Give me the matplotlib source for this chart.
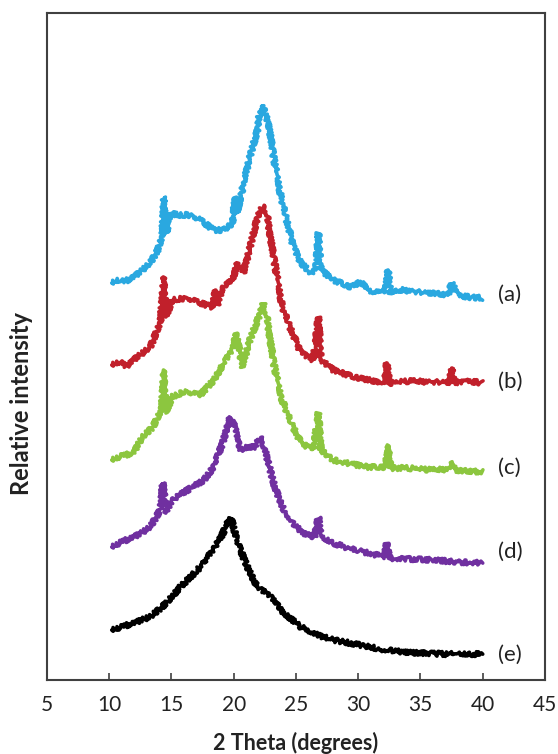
import matplotlib
matplotlib.use("Agg")
import matplotlib.pyplot as plt
import numpy as np

plt.rcParams['font.family'] = ['Lato', 'DejaVu Sans']

# values (arbitrary intensity units, already stacked)
x_a = [10.2, 10.7, 11.2, 11.9, 12.6, 13.3, 13.9, 14.25, 14.4, 14.6, 14.9, 15.5, 16.3, 17.3, 18.4, 19.2,
       19.9, 20.1, 20.3, 20.8, 21.3, 21.9, 22.1, 22.3, 22.5, 22.8, 23.2, 23.8, 24.3, 24.8, 25.4, 26.2,
       26.6, 26.8, 27.0, 28.0, 29.4, 30.2, 31.2, 32.2, 32.4, 32.6, 33.6, 34.8, 36.1, 37.2, 37.5, 38.0,
       38.8, 40.0]
y_a = [397, 400, 398, 403, 409, 417, 430, 443, 483, 447, 467, 465, 465, 460, 450, 450,
       457, 483, 467, 497, 523, 550, 570, 575, 567, 557, 523, 483, 457, 433, 417, 407,
       410, 447, 410, 400, 393, 398, 387, 390, 410, 387, 390, 388, 387, 385, 397, 385,
       383, 382]

x_b = [10.2, 10.8, 11.4, 11.9, 12.6, 13.3, 14.1, 14.4, 14.6, 15.0, 15.6, 16.3, 17.3, 18.3, 18.5, 18.7,
       19.2, 20.0, 20.3, 20.8, 21.2, 21.9, 22.4, 22.7, 23.2, 23.9, 24.6, 25.4, 26.4, 26.8, 27.0, 28.0,
       29.4, 30.8, 32.1, 32.3, 32.5, 34.0, 36.0, 37.3, 37.5, 37.7, 38.8, 40.0]
y_b = [315, 318, 314, 320, 326, 333, 357, 403, 363, 380, 381, 381, 377, 373, 390, 375,
       393, 403, 417, 407, 427, 463, 475, 463, 423, 373, 350, 327, 320, 363, 320, 310,
       304, 300, 297, 317, 297, 299, 298, 298, 312, 297, 299, 297]

x_c = [10.2, 11.0, 11.9, 12.7, 13.5, 14.2, 14.4, 14.6, 15.0, 16.0, 17.3, 18.4, 19.2, 19.9, 20.2, 20.7,
       21.3, 22.0, 22.4, 22.7, 23.2, 23.8, 24.6, 25.4, 26.4, 26.8, 27.0, 28.0, 29.4, 30.8, 32.2, 32.4,
       32.6, 34.0, 36.0, 37.4, 37.6, 37.8, 40.0]
y_c = [220, 224, 227, 243, 253, 270, 310, 267, 283, 288, 285, 300, 317, 330, 347, 313,
       340, 363, 377, 360, 317, 283, 257, 237, 230, 267, 230, 220, 216, 213, 213, 235,
       212, 212, 210, 211, 218, 210, 208]

x_d = [10.2, 11.0, 11.9, 12.6, 13.3, 14.1, 14.3, 14.6, 15.0, 16.3, 17.6, 18.4, 19.1, 19.7, 20.1, 20.5,
       21.1, 21.7, 22.1, 22.5, 23.2, 23.9, 24.7, 25.6, 26.5, 26.8, 27.0, 28.0, 29.4, 30.8, 32.1, 32.3,
       32.5, 34.0, 36.0, 38.0, 40.0]
y_d = [133, 138, 143, 147, 153, 170, 197, 167, 180, 190, 200, 213, 237, 263, 253, 230,
       233, 233, 243, 230, 197, 173, 157, 147, 143, 163, 143, 137, 131, 127, 123, 137,
       122, 121, 120, 118, 117]

x_e = [10.2, 11.0, 11.9, 13.3, 14.6, 15.7, 17.1, 18.1, 19.0, 19.5, 19.8, 20.3, 21.1, 21.9, 23.0, 24.0,
       25.4, 26.7, 28.0, 30.2, 32.1, 34.8, 37.0, 40.0]
y_e = [50, 53, 57, 63, 77, 93, 110, 127, 143, 157, 162, 137, 113, 93, 83, 67,
       53, 45, 40, 35, 30, 27, 26, 26]

labels = ["(a)", "(b)", "(c)", "(d)", "(e)"]
colors = ["#2aa8e0", "#c1202b", "#8cc63f", "#7030a0", "#000000"]
label_y = [385, 298, 212, 128, 25]

series = [(x_a, y_a), (x_b, y_b), (x_c, y_c), (x_d, y_d), (x_e, y_e)]

fig = plt.figure(figsize=(5.58, 7.54), dpi=100)
ax = fig.add_axes([0.0842, 0.0981, 0.8925, 0.8847])

for (xs, ys), col, lab, ly in zip(series, colors, labels, label_y):
    line, = ax.plot(xs, ys, color=col, lw=2.6, solid_joinstyle='round', solid_capstyle='round')
    # rough trace look of the raw diffractogram
    line.set_sketch_params(scale=2.4, length=1.3, randomness=2)
    ax.text(41.2, ly, lab, fontsize=16, va='center', ha='left', color='#222222')

ax.set_xlim(5, 45)
ax.set_ylim(0, 667)
ax.set_xticks(np.arange(5, 46, 5))
ax.set_yticks([])
ax.tick_params(axis='x', direction='in', length=5, width=1.2, color='#404040',
               labelsize=15, pad=11, labelcolor='#222222')
for s in ax.spines.values():
    s.set_color('#404040')
    s.set_linewidth(1.5)

ax.set_xlabel("2 Theta (degrees)", fontsize=15.5, fontweight='bold', labelpad=12, color='#222222')
fig.text(0.039, 0.4655, "Relative intensity", rotation=90, fontsize=17, fontweight='bold',
         va='center', ha='center', color='#222222')

fig.savefig("out.png", dpi=100)
